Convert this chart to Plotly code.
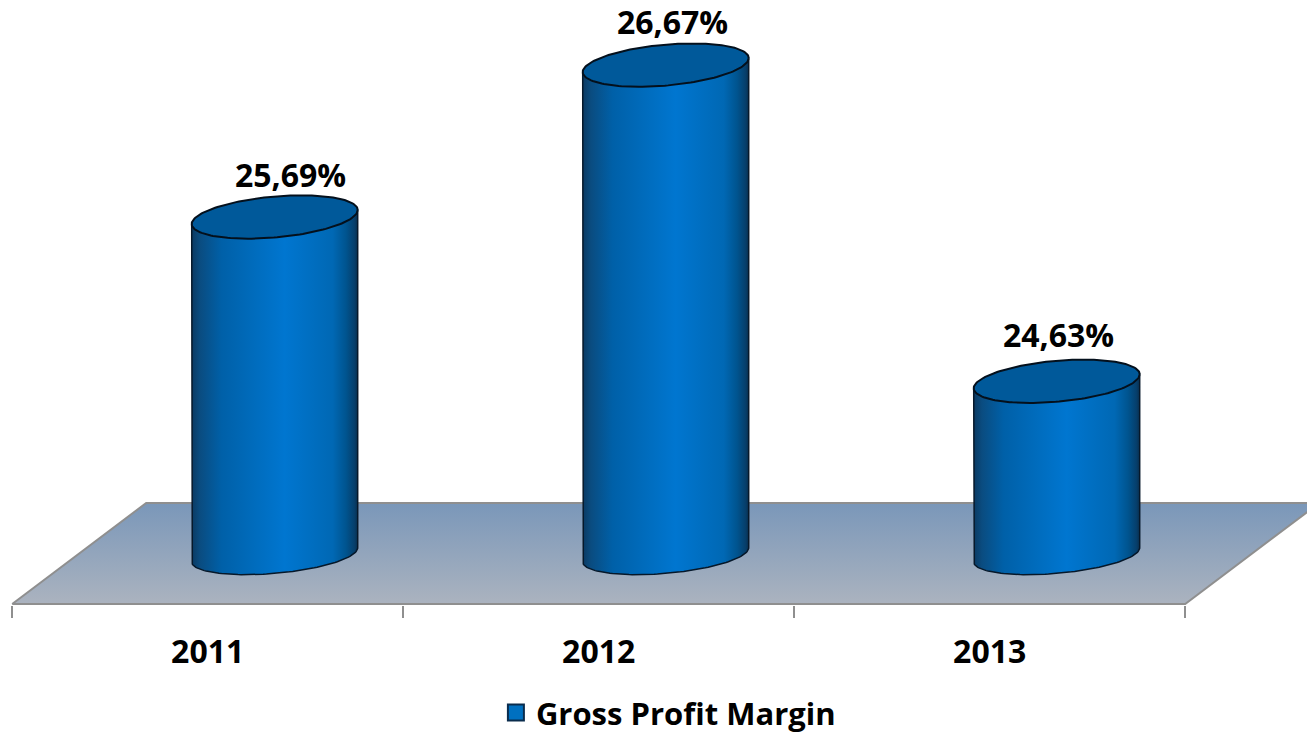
import numpy as np
import plotly.graph_objects as go

# ---- data ----
categories = ["2011", "2012", "2013"]
margin_values = [25.69, 26.67, 24.63]
value_labels = ["25,69%", "26,67%", "24,63%"]
series_name = "Gross Profit Margin"
axis_base = 23.51

# ---- scale set-up (px on a 1307x734 canvas) ----
W, H = 1307, 734
PX_PER_CAT = 391.0
PX_PER_VAL = 155.0
X0_PX = 207.7          # pixel of first category on the front edge
Y_REF_VAL, Y_REF_PX = 25.69, 217.0

x_range = [-X0_PX / PX_PER_CAT, (W - X0_PX) / PX_PER_CAT]
y_range = [Y_REF_VAL - (H - Y_REF_PX) / PX_PER_VAL, Y_REF_VAL + Y_REF_PX / PX_PER_VAL]

DEPTH_X = 134 / PX_PER_CAT
HALF_W = 83 / PX_PER_CAT
SKEW = 7 / PX_PER_VAL
MINOR = 20.5 / PX_PER_VAL
MINOR_BASE = 18.5 / PX_PER_VAL
FLOOR_FRONT = Y_REF_VAL - (604 - Y_REF_PX) / PX_PER_VAL
FLOOR_BACK = Y_REF_VAL - (503 - Y_REF_PX) / PX_PER_VAL
AXIS_POS = (H - 604.5) / H

BODY_SCALE = [
    [0.00, "#0b3a62"], [0.05, "#0a4c80"], [0.18, "#0060a8"], [0.38, "#006cbd"],
    [0.56, "#0076d0"], [0.85, "#0068b4"], [0.93, "#00548f"], [0.98, "#063f6c"], [1.00, "#0a3050"],
]
FLOOR_SCALE = [[0, "#abb3bf"], [1, "#7a97b9"]]

fig = go.Figure()

# floor
fig.add_trace(go.Scatter(
    x=[-0.5, 2.5, 2.5 + DEPTH_X, -0.5 + DEPTH_X, -0.5],
    y=[FLOOR_FRONT, FLOOR_FRONT, FLOOR_BACK, FLOOR_BACK, FLOOR_FRONT],
    mode="lines", fill="toself",
    fillgradient=dict(type="vertical", colorscale=FLOOR_SCALE),
    line=dict(color="#8f8f8f", width=2),
    showlegend=False, hoverinfo="skip",
))

# cylinders
for i, (cat, val) in enumerate(zip(categories, margin_values)):
    cx = i + DEPTH_X / 2
    # body: down the left side, around the front of the base, up the right side
    t = np.linspace(np.pi, 2 * np.pi, 80)
    bx = cx + HALF_W * np.cos(t)
    by = axis_base + SKEW * np.cos(t) + MINOR_BASE * np.sin(t)
    body_x = np.concatenate([[cx - HALF_W], bx, [cx + HALF_W, cx - HALF_W]])
    body_y = np.concatenate([[val - SKEW], by, [val + SKEW, val - SKEW]])
    fig.add_trace(go.Scatter(
        x=body_x, y=body_y, mode="lines", fill="toself",
        fillgradient=dict(type="horizontal", colorscale=BODY_SCALE),
        line=dict(color="#06182a", width=1.5),
        showlegend=False, hoverinfo="skip",
    ))
    # lid
    t = np.linspace(0, 2 * np.pi, 160)
    fig.add_trace(go.Scatter(
        x=cx + HALF_W * np.cos(t),
        y=val + SKEW * np.cos(t) + MINOR * np.sin(t),
        mode="lines", fill="toself", fillcolor="#00599a",
        line=dict(color="#04101c", width=2),
        showlegend=False, hoverinfo="skip",
    ))

# legend entry
fig.add_trace(go.Scatter(
    x=[None], y=[None], mode="markers", name=series_name,
    marker=dict(symbol="square", size=20, color="#0070c0", line=dict(color="#0a2c4d", width=2)),
    hoverinfo="skip",
))

# value labels
label_dx = [16, 7, 2]
label_dy = [43, 44, 47]
for i, (val, txt) in enumerate(zip(margin_values, value_labels)):
    fig.add_annotation(
        x=i + DEPTH_X / 2, y=val, text=txt, showarrow=False,
        xshift=label_dx[i], yshift=label_dy[i],
        font=dict(family="Open Sans", size=32, color="black", weight="bold"),
    )

fig.update_layout(
    width=W, height=H,
    margin=dict(l=0, r=0, t=0, b=0, autoexpand=False),
    paper_bgcolor="white", plot_bgcolor="rgba(0,0,0,0)",
    showlegend=True,
    legend=dict(
        x=0.5114, xanchor="center", y=-0.008, yanchor="bottom",
        font=dict(family="Open Sans", size=31, color="black", weight="bold"),
        itemsizing="trace", bgcolor="rgba(0,0,0,0)", borderwidth=0,
    ),
    xaxis=dict(
        range=x_range, autorange=False, anchor="free", position=AXIS_POS,
        tickmode="array", tickvals=[0, 1, 2], ticktext=categories,
        ticks="", showgrid=False, zeroline=False, showline=False,
        ticklabelstandoff=25,
        tickfont=dict(family="Open Sans", size=32, color="black", weight="bold"),
        minor=dict(
            tickmode="array", tickvals=[-0.5, 0.5, 1.5, 2.5],
            ticks="outside", ticklen=12, tickwidth=2, tickcolor="#8f8f8f", showgrid=False,
        ),
    ),
    yaxis=dict(range=y_range, autorange=False, visible=False),
)

fig.write_html("out.html", config=dict(displayModeBar=False), post_script="document.body.style.margin='0';")
